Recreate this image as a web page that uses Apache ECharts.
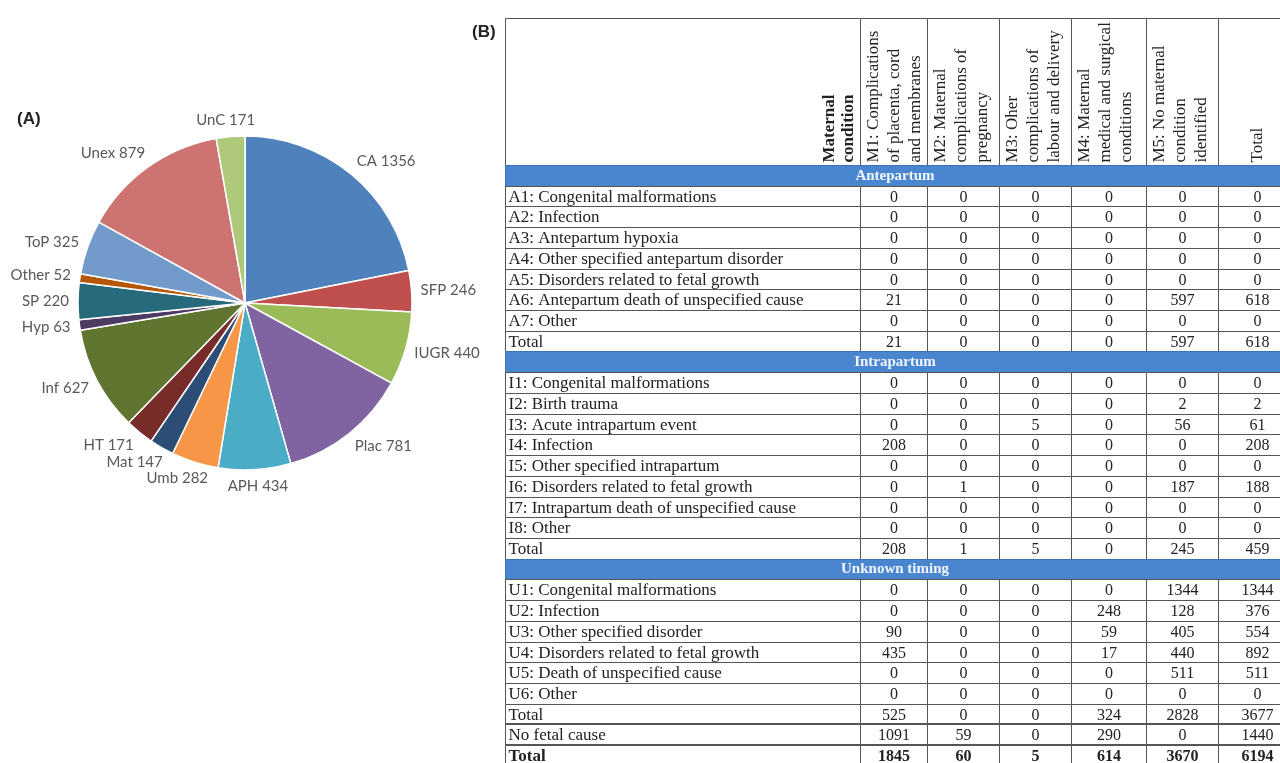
<!DOCTYPE html>
<html lang="en">
<head>
    <meta charset="UTF-8">
    <script src="https://cdn.jsdelivr.net/npm/echarts@6.0.0/dist/echarts.min.js"></script>
    <style>
        html, body { margin: 0; padding: 0; background: #fff; }
    </style>
</head>
<body>
<div id="main" style="width: 1280px;height: 763px"></div>
<script>
    // (A) pie data
    var pieNames = ['CA', 'SFP', 'IUGR', 'Plac', 'APH', 'Umb', 'Mat', 'HT', 'Inf', 'Hyp', 'SP', 'Other', 'ToP', 'Unex', 'UnC'];
    var pieValues = [1356, 246, 440, 781, 434, 282, 147, 171, 627, 63, 220, 52, 325, 879, 171];

    // (B) table data
    var colHeaders = [
        'M1: Complications\nof placenta, cord\nand membranes',
        'M2: Maternal\ncomplications of\npregnancy',
        'M3: Oher\ncomplications of\nlabour and delivery',
        'M4: Maternal\nmedical and surgical\nconditions',
        'M5: No maternal\ncondition\nidentified',
        'Total'
    ];
    var cornerLabel = 'Maternal\ncondition';
    var sectionNames = ['Antepartum', 'Intrapartum', 'Unknown timing'];

    var antepartumLabels = ['A1: Congenital malformations', 'A2: Infection', 'A3: Antepartum hypoxia',
        'A4: Other specified antepartum disorder', 'A5: Disorders related to fetal growth',
        'A6: Antepartum death of unspecified cause', 'A7: Other', 'Total'];
    var antepartumValues = [
        [0, 0, 0, 0, 0, 0],
        [0, 0, 0, 0, 0, 0],
        [0, 0, 0, 0, 0, 0],
        [0, 0, 0, 0, 0, 0],
        [0, 0, 0, 0, 0, 0],
        [21, 0, 0, 0, 597, 618],
        [0, 0, 0, 0, 0, 0],
        [21, 0, 0, 0, 597, 618]
    ];

    var intrapartumLabels = ['I1: Congenital malformations', 'I2: Birth trauma', 'I3: Acute intrapartum event',
        'I4: Infection', 'I5: Other specified intrapartum', 'I6: Disorders related to fetal growth',
        'I7: Intrapartum death of unspecified cause', 'I8: Other', 'Total'];
    var intrapartumValues = [
        [0, 0, 0, 0, 0, 0],
        [0, 0, 0, 0, 2, 2],
        [0, 0, 5, 0, 56, 61],
        [208, 0, 0, 0, 0, 208],
        [0, 0, 0, 0, 0, 0],
        [0, 1, 0, 0, 187, 188],
        [0, 0, 0, 0, 0, 0],
        [0, 0, 0, 0, 0, 0],
        [208, 1, 5, 0, 245, 459]
    ];

    var unknownLabels = ['U1: Congenital malformations', 'U2: Infection', 'U3: Other specified disorder',
        'U4: Disorders related to fetal growth', 'U5: Death of unspecified cause', 'U6: Other', 'Total'];
    var unknownValues = [
        [0, 0, 0, 0, 1344, 1344],
        [0, 0, 0, 248, 128, 376],
        [90, 0, 0, 59, 405, 554],
        [435, 0, 0, 17, 440, 892],
        [0, 0, 0, 0, 511, 511],
        [0, 0, 0, 0, 0, 0],
        [525, 0, 0, 324, 2828, 3677]
    ];

    var footerLabels = ['No fetal cause', 'Total'];
    var footerValues = [
        [1091, 59, 0, 290, 0, 1440],
        [1845, 60, 5, 614, 3670, 6194]
    ];

    // layout / style
    var pieColors = ['#4f81bd', '#c0504d', '#9bbb59', '#8064a2', '#4bacc6', '#f79646',
        '#2c4d75', '#772c2a', '#5f7530', '#4d3b62', '#276a7c', '#b65708',
        '#729aca', '#cd7371', '#afc97a'];
    var pieCenter = [245, 303];
    var pieRadius = 167;
    var colEdges = [0, 355, 422, 494, 566, 641, 713, 791];
    var headerH = 147;
    var rowH = 20.72;
    var serif = '"Liberation Serif", "Times New Roman", serif';

    // mid angle of every slice (clockwise from 12 o'clock), for Excel-like label placement
    var pieTotal = pieValues.reduce(function (a, b) { return a + b; }, 0);
    var midAngles = [];
    var acc = 0;
    pieValues.forEach(function (v) {
        midAngles.push((acc + v / 2) / pieTotal * Math.PI * 2);
        acc += v;
    });

    // build cells
    var cells = [];
    cells.push({c: 0, r: -1, text: cornerLabel, kind: 'corner'});
    colHeaders.forEach(function (h, i) {
        cells.push({c: i + 1, r: -1, text: h, kind: i === colHeaders.length - 1 ? 'headCenter' : 'head'});
    });
    var rowIdx = 0;
    function addRows(labels, values, kindOf) {
        labels.forEach(function (lab, i) {
            var k = kindOf(i);
            cells.push({c: 0, r: rowIdx, text: lab, kind: 'label', bold: k === 'grand', thickTop: k !== 'plain'});
            values[i].forEach(function (v, j) {
                cells.push({c: j + 1, r: rowIdx, text: String(v), kind: 'num', bold: k === 'grand', thickTop: k !== 'plain'});
            });
            rowIdx++;
        });
    }
    [[antepartumLabels, antepartumValues], [intrapartumLabels, intrapartumValues], [unknownLabels, unknownValues]]
        .forEach(function (sec, s) {
            cells.push({c: 0, r: rowIdx, text: sectionNames[s], kind: 'band', span: true});
            rowIdx++;
            addRows(sec[0], sec[1], function () { return 'plain'; });
        });
    addRows(footerLabels, footerValues, function (i) { return i === 1 ? 'grand' : 'foot'; });

    function px(v) { return Math.round(v) + 0.5; }

    function renderCell(params, api) {
        var cell = cells[params.dataIndex];
        var c = api.value(0), r = api.value(1);
        var x0 = colEdges[c];
        var x1 = cell.span ? colEdges[colEdges.length - 1] : colEdges[c + 1];
        var y0 = r < 0 ? 0 : headerH + r * rowH;
        var y1 = r < 0 ? headerH : y0 + rowH;
        var p0 = api.coord([x0, y0]), p1 = api.coord([x1, y1]);
        var left = px(p0[0]), top = px(p0[1]), right = px(p1[0]), bottom = px(p1[1]);
        var isBand = cell.kind === 'band';
        var children = [{
            type: 'rect',
            shape: {x: left, y: top, width: right - left, height: bottom - top},
            style: {fill: isBand ? '#4a86d0' : '#fff', stroke: isBand ? '#3d72b8' : '#555', lineWidth: 1}
        }];
        if (cell.thickTop) {
            children.push({
                type: 'line',
                shape: {x1: left, y1: top - 1, x2: right, y2: top - 1},
                style: {stroke: '#555', lineWidth: 1}
            });
        }
        var t;
        if (cell.kind === 'corner') {
            t = {x: right - 2, y: bottom - 3, rotation: Math.PI / 2,
                style: {align: 'left', verticalAlign: 'bottom', fontSize: 17, fontWeight: 'bold', lineHeight: 19}};
        } else if (cell.kind === 'head') {
            t = {x: left + 3, y: bottom - 3, rotation: Math.PI / 2,
                style: {align: 'left', verticalAlign: 'top', fontSize: 17, lineHeight: 21}};
        } else if (cell.kind === 'headCenter') {
            t = {x: (left + right) / 2, y: bottom - 3, rotation: Math.PI / 2,
                style: {align: 'left', verticalAlign: 'middle', fontSize: 17}};
        } else if (cell.kind === 'band') {
            t = {x: (left + right) / 2 - 6, y: (top + bottom) / 2,
                style: {align: 'center', verticalAlign: 'middle', fontSize: 15, fontWeight: 'bold', fill: '#f2f7ff'}};
        } else if (cell.kind === 'label') {
            t = {x: left + 3, y: (top + bottom) / 2 + 1,
                style: {align: 'left', verticalAlign: 'middle', fontSize: 17}};
        } else {
            t = {x: (left + right) / 2, y: (top + bottom) / 2 + 1,
                style: {align: 'center', verticalAlign: 'middle', fontSize: 16}};
        }
        t.type = 'text';
        t.style.text = cell.text;
        t.style.fontFamily = serif;
        if (!t.style.fill) t.style.fill = '#222';
        if (cell.bold) t.style.fontWeight = 'bold';
        children.push(t);
        return {type: 'group', children: children};
    }

    var mycharts = echarts.init(document.getElementById('main'));
    var option = {
        animation: false,
        backgroundColor: '#fff',
        title: [{
            text: '(A)', left: 12, top: 106,
            textStyle: {fontFamily: '"Liberation Sans", Arial', fontSize: 17, fontWeight: 'bold', color: '#222'}
        }, {
            text: '(B)', left: 467, top: 19,
            textStyle: {fontFamily: '"Liberation Sans", Arial', fontSize: 17, fontWeight: 'bold', color: '#222'}
        }],
        grid: {left: 505, top: 18, width: 791, height: 748, outerBoundsMode: 'none'},
        xAxis: {type: 'value', min: 0, max: 791, show: false},
        yAxis: {type: 'value', min: 0, max: 748, inverse: true, show: false},
        series: [{
            type: 'pie',
            center: pieCenter,
            radius: pieRadius,
            startAngle: 90,
            clockwise: true,
            color: pieColors,
            data: pieNames.map(function (n, i) { return {name: n, value: pieValues[i]}; }),
            itemStyle: {borderColor: '#fff', borderWidth: 1.5},
            label: {
                show: true,
                formatter: '{b} {c}',
                fontFamily: 'Lato',
                fontSize: 15,
                color: '#595959',
                overflow: 'none'
            },
            labelLine: {show: false},
            labelLayout: function (params) {
                var a = midAngles[params.dataIndex];
                var sx = Math.sin(a), sy = -Math.cos(a);
                var hw = params.labelRect.width / 2, hh = params.labelRect.height / 2;
                var d = pieRadius + 9;
                var kx = Math.max(-1, Math.min(1, sx * 1.6));
                return {
                    x: pieCenter[0] + d * sx + hw * kx,
                    y: pieCenter[1] + d * sy + hh * sy,
                    align: 'center',
                    verticalAlign: 'middle'
                };
            }
        }, {
            type: 'custom',
            coordinateSystem: 'cartesian2d',
            renderItem: renderCell,
            data: cells.map(function (d) { return [d.c, d.r]; })
        }]
    };
    mycharts.setOption(option);
</script>
</body>
</html>
